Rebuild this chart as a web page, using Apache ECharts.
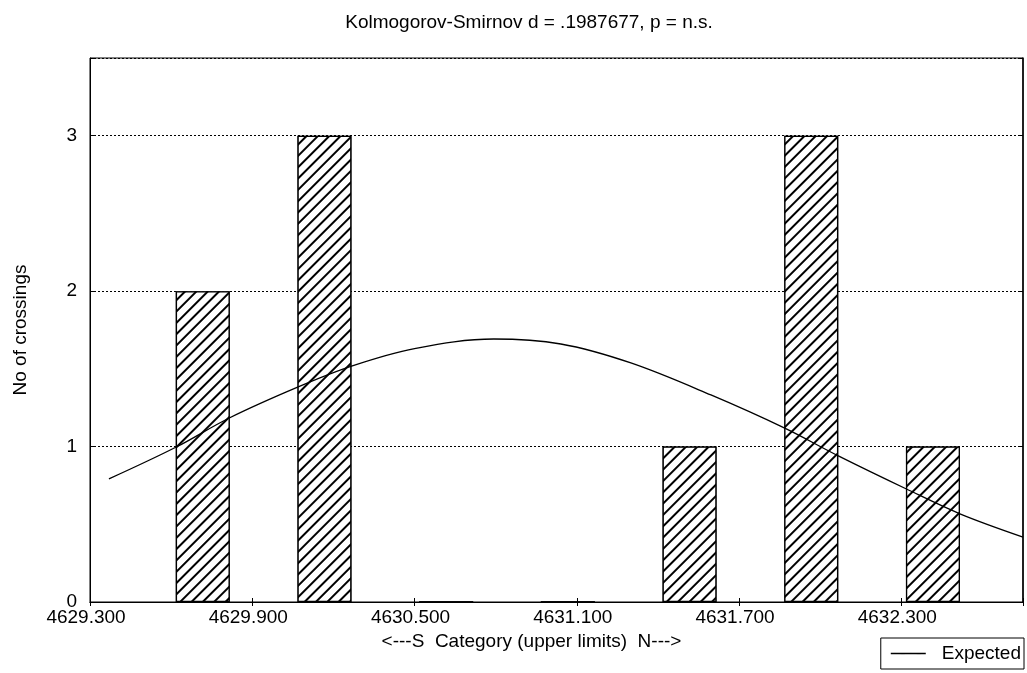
<!DOCTYPE html>
<html>
<head>
<meta charset="utf-8">
<script src="https://cdn.jsdelivr.net/npm/echarts@6/dist/echarts.min.js"></script>
<style>
  html, body { margin: 0; padding: 0; background: #fff; }
  #chart { width: 1027px; height: 673px; }
</style>
</head>
<body>
<div id="chart"></div>
<script>
// histogram bins (centre of each bar) and counts
const binCentres = [4629.717, 4630.167, 4630.617, 4631.067, 4631.517, 4631.967, 4632.417];
const counts = [2, 3, 0, 0, 1, 3, 1];

// expected normal curve
const expectedX = [4629.370, 4629.619, 4629.815, 4630.070, 4630.270, 4630.500, 4630.793,
  4631.041, 4631.300, 4631.596, 4631.867, 4632.067, 4632.319, 4632.519, 4632.750];
const expectedY = [0.792, 0.997, 1.184, 1.384, 1.519, 1.630, 1.692,
  1.660, 1.538, 1.332, 1.120, 0.940, 0.727, 0.566, 0.418];

const xMin = 4629.3;
const xMax = 4632.75;
const xStep = 0.6;

const FONT = "Liberation Sans";

const chart = echarts.init(document.getElementById("chart"));

// only label the real 0.6 steps, not the max end
function xLabel(v) {
  const k = (v - xMin) / xStep;
  if (Math.abs(k - Math.round(k)) > 0.01) return "";
  return v.toFixed(3);
}
function yLabel(v) {
  return Number.isInteger(v) ? String(v) : "";
}

const xCommon = {
  type: "value",
  min: xMin,
  max: xMax,
  interval: xStep,
  axisLine: { show: true, lineStyle: { color: "#000", width: 1 } },
  axisTick: { show: true, inside: true, length: 4, lineStyle: { color: "#000" } },
  splitLine: { show: false },
};

chart.setOption({
  backgroundColor: "#fff",
  animation: false,
  aria: { enabled: true, decal: { show: true } },
  title: {
    text: "Kolmogorov-Smirnov d = .1987677, p = n.s.",
    left: 524,
    textAlign: "center",
    top: 8,
    textStyle: { fontFamily: FONT, fontSize: 19, fontWeight: "normal", color: "#000" },
  },
  legend: {
    right: 3,
    bottom: 4,
    orient: "horizontal",
    borderColor: "#000",
    borderWidth: 1,
    borderRadius: 0,
    padding: [6, 3, 6, 10],
    itemWidth: 35,
    itemHeight: 1.3,
    icon: "rect",
    textStyle: { fontFamily: FONT, fontSize: 19, color: "#000", padding: [0, 0, 0, 11] },
    data: ["Expected"],
  },
  grid: {
    left: 90,
    right: 4,
    top: 58,
    bottom: 71,
    show: true,
    borderColor: "#000",
    borderWidth: 1,
    containLabel: false,
  },
  xAxis: [
    Object.assign({}, xCommon, {
      position: "bottom",
      name: "<---S  Category (upper limits)  N--->",
      nameLocation: "middle",
      nameGap: 24,
      nameTextStyle: { fontFamily: FONT, fontSize: 19, color: "#000", padding: [0, 50, 0, 0] },
      axisLabel: {
        margin: 6, fontFamily: FONT, fontSize: 19, color: "#000",
        padding: [0, 8, 0, 0], formatter: xLabel,
      },
    }),
    Object.assign({}, xCommon, {
      position: "top",
      axisLabel: { show: false },
    }),
  ],
  yAxis: [
    {
      type: "value",
      min: 0,
      max: 3.5,
      interval: 1,
      name: "No of crossings",
      nameLocation: "middle",
      nameGap: 60,
      nameTextStyle: { fontFamily: FONT, fontSize: 19, color: "#000" },
      axisLine: { show: true, lineStyle: { color: "#000" } },
      axisTick: { show: true, inside: true, length: 5, lineStyle: { color: "#000" } },
      axisLabel: { margin: 13, fontFamily: FONT, fontSize: 19, color: "#000", formatter: yLabel },
      splitLine: { show: true, lineStyle: { color: "#000", type: [2, 2], width: 1 } },
    },
    {
      type: "value",
      min: 0,
      max: 3.5,
      interval: 1,
      position: "right",
      axisLine: { show: true, lineStyle: { color: "#000", width: 1.5 } },
      axisTick: { show: true, inside: true, length: 5, lineStyle: { color: "#000" } },
      axisLabel: { show: false },
      splitLine: { show: false },
    },
  ],
  series: [
    {
      name: "Observed",
      type: "bar",
      barWidth: 54,
      data: binCentres.map((x, i) => [x, counts[i]]),
      itemStyle: {
        color: "#fff",
        borderColor: "#000",
        borderWidth: 1.3,
        decal: {
          symbol: "rect",
          symbolSize: 1,
          dashArrayX: [1, 0],
          dashArrayY: [1.3, 5.2],
          rotation: -Math.PI / 4,
          color: "#000",
          backgroundColor: "#fff",
        },
      },
      z: 2,
    },
    {
      name: "Expected",
      type: "line",
      smooth: 0.35,
      symbol: "none",
      data: expectedX.map((x, i) => [x, expectedY[i]]),
      lineStyle: { color: "#000", width: 1.3 },
      itemStyle: { color: "#000" },
      z: 3,
    },
  ],
});
</script>
</body>
</html>
